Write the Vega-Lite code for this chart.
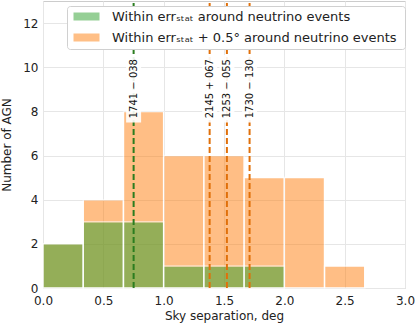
{
  "$schema": "https://vega.github.io/schema/vega-lite/v6.json",
  "width": 362,
  "height": 287,
  "autosize": {"type": "none"},
  "padding": {"left": 43, "top": 1, "right": 11, "bottom": 39},
  "config": {
    "font": "DejaVu Sans",
    "view": {"stroke": "#cccccc", "strokeWidth": 1},
    "axis": {
      "labelFont": "DejaVu Sans", "titleFont": "DejaVu Sans",
      "labelFontSize": 12, "titleFontSize": 12, "labelColor": "#222222", "titleColor": "#222222",
      "titleFontWeight": "normal", "gridColor": "#e6e6e6", "domain": false, "ticks": false,
      "labelPadding": 5, "labelFlush": false
    }
  },
  "datasets": {
    "bins": [
      {"x0": 0, "x1": 0.3333, "series": "Within errₛₜₐₜ + 0.5°  around neutrino events", "count": 2},
      {"x0": 0.3333, "x1": 0.6667, "series": "Within errₛₜₐₜ + 0.5°  around neutrino events", "count": 4},
      {"x0": 0.6667, "x1": 1.0, "series": "Within errₛₜₐₜ + 0.5°  around neutrino events", "count": 8},
      {"x0": 1.0, "x1": 1.3333, "series": "Within errₛₜₐₜ + 0.5°  around neutrino events", "count": 6},
      {"x0": 1.3333, "x1": 1.6667, "series": "Within errₛₜₐₜ + 0.5°  around neutrino events", "count": 6},
      {"x0": 1.6667, "x1": 2.0, "series": "Within errₛₜₐₜ + 0.5°  around neutrino events", "count": 5},
      {"x0": 2.0, "x1": 2.3333, "series": "Within errₛₜₐₜ + 0.5°  around neutrino events", "count": 5},
      {"x0": 2.3333, "x1": 2.6667, "series": "Within errₛₜₐₜ + 0.5°  around neutrino events", "count": 1},
      {"x0": 0, "x1": 0.3333, "series": "Within errₛₜₐₜ around neutrino events", "count": 2},
      {"x0": 0.3333, "x1": 0.6667, "series": "Within errₛₜₐₜ around neutrino events", "count": 3},
      {"x0": 0.6667, "x1": 1.0, "series": "Within errₛₜₐₜ around neutrino events", "count": 3},
      {"x0": 1.0, "x1": 1.3333, "series": "Within errₛₜₐₜ around neutrino events", "count": 1},
      {"x0": 1.3333, "x1": 1.6667, "series": "Within errₛₜₐₜ around neutrino events", "count": 1},
      {"x0": 1.6667, "x1": 2.0, "series": "Within errₛₜₐₜ around neutrino events", "count": 1}
    ],
    "sources": [
      {"sep": 0.751, "name": "1741 − 038", "group": "stat"},
      {"sep": 1.381, "name": "2145 + 067", "group": "ext"},
      {"sep": 1.524, "name": "1253 − 055", "group": "ext"},
      {"sep": 1.712, "name": "1730 − 130", "group": "ext"}
    ]
  },
  "layer": [
    {
      "data": {"name": "bins"},
      "mark": {"type": "rect", "opacity": 0.5, "stroke": "white", "strokeWidth": 1.5},
      "encoding": {
        "x": {"field": "x0", "type": "quantitative", "scale": {"domain": [0, 3], "nice": false},
              "axis": {"title": "Sky separation, deg", "values": [0, 0.5, 1, 1.5, 2, 2.5, 3], "format": ".1f", "titlePadding": 4, "labelPadding": 7}},
        "x2": {"field": "x1"},
        "y": {"field": "count", "type": "quantitative", "stack": null, "scale": {"domain": [0, 13], "nice": false},
              "axis": {"title": "Number of AGN", "values": [0, 2, 4, 6, 8, 10, 12], "titlePadding": 9}},
        "y2": {"datum": 0},
        "color": {"field": "series", "type": "nominal",
                  "scale": {"domain": ["Within errₛₜₐₜ around neutrino events", "Within errₛₜₐₜ + 0.5°  around neutrino events"], "range": ["#2ca02c", "#ff7f0e"]},
                  "legend": {"title": null, "orient": "none", "legendX": 24, "legendY": 5,
                             "fillColor": "white", "strokeColor": "#d0d0d0", "cornerRadius": 3, "padding": 4,
                             "labelFontSize": 13, "labelColor": "#222222", "labelFont": "DejaVu Sans",
                             "symbolType": "M-2.6,-0.8H2.6V0.8H-2.6Z", "symbolSize": 100, "symbolOpacity": 0.5,
                             "symbolStrokeWidth": 0, "symbolOffset": 9, "rowPadding": 7, "labelOffset": 19, "labelLimit": 400}}
      }
    },
    {
      "data": {"name": "sources"},
      "mark": {"type": "rule", "strokeWidth": 2, "strokeDash": [6, 3]},
      "encoding": {
        "x": {"field": "sep", "type": "quantitative"},
        "y": {"datum": 0},
        "y2": {"datum": 13},
        "color": {"field": "group", "type": "nominal", "scale": {"domain": ["stat", "ext"], "range": ["#2b7d1f", "#e0700a"]}, "legend": null}
      }
    },
    {
      "data": {"name": "sources"},
      "mark": {"type": "rule", "strokeWidth": 15, "color": "white", "opacity": 0.9},
      "encoding": {
        "x": {"field": "sep", "type": "quantitative"},
        "y": {"datum": 7.5},
        "y2": {"datum": 10.55}
      }
    },
    {
      "data": {"name": "sources"},
      "mark": {"type": "text", "angle": 270, "align": "center", "baseline": "middle", "fontSize": 10, "color": "#111111", "font": "DejaVu Sans"},
      "encoding": {
        "x": {"field": "sep", "type": "quantitative"},
        "y": {"datum": 9.03},
        "text": {"field": "name"}
      }
    }
  ],
  "resolve": {"scale": {"color": "independent"}}
}
